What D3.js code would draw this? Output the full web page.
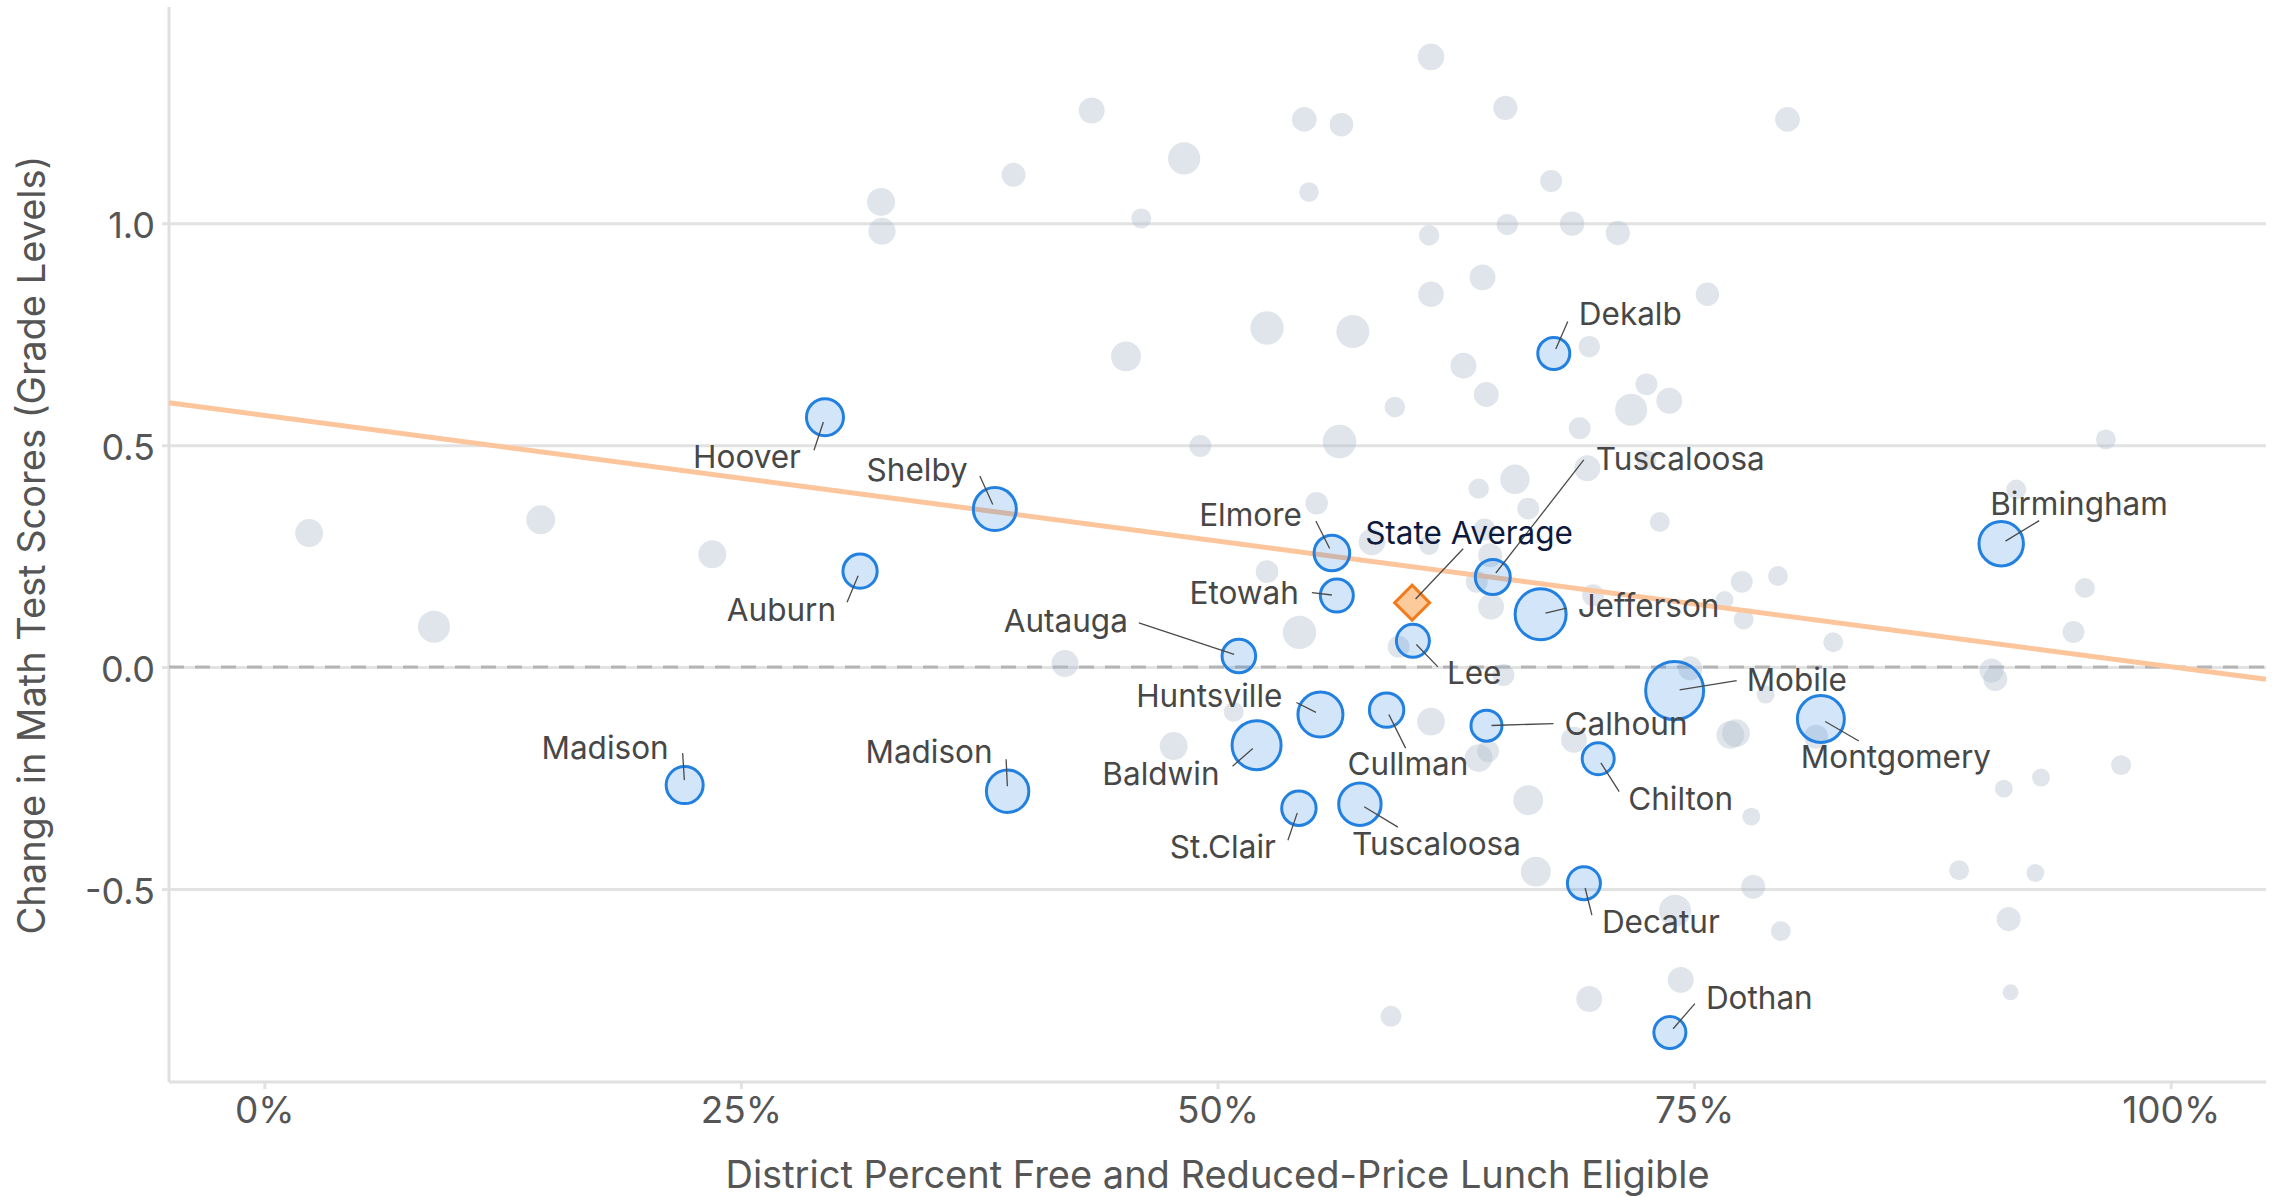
<!DOCTYPE html>
<html>
<head>
<meta charset="utf-8">
<script src="https://cdn.jsdelivr.net/npm/d3@7"></script>
<style>
  body { margin: 0; background: #fff; }
  svg { display: block; font-family: Inter, "Noto Sans", sans-serif; }
</style>
</head>
<body>
<div id="chart"></div>
<script>
// unlabeled districts: % free/reduced lunch, change in math scores, enrollment (thousands)
const otherPct = [0.612, 0.434, 0.5455, 0.565, 0.651, 0.799, 0.4825, 0.393, 0.675, 0.548,
  0.3235, 0.324, 0.460, 0.611, 0.652, 0.686, 0.710, 0.639, 0.612, 0.757,
  0.526, 0.571, 0.452, 0.629, 0.695, 0.725, 0.641, 0.717, 0.737, 0.593,
  0.690, 0.564, 0.491, 0.694, 0.725, 0.966, 0.552, 0.637, 0.656, 0.663,
  0.732, 0.919, 0.0235, 0.145, 0.235, 0.089, 0.420, 0.543, 0.526, 0.775,
  0.794, 0.955, 0.949, 0.823, 0.776, 0.766, 0.697, 0.581, 0.611, 0.640,
  0.643, 0.636, 0.6435, 0.595, 0.650, 0.748, 0.7875, 0.769, 0.772, 0.687,
  0.814, 0.906, 0.908, 0.5085, 0.477, 0.612, 0.637, 0.642, 0.663, 0.667,
  0.591, 0.780, 0.781, 0.740, 0.7955, 0.743, 0.695, 0.889, 0.929, 0.915,
  0.916, 0.974, 0.932, 0.9125];
const otherChange = [1.375, 1.254, 1.234, 1.222, 1.260, 1.234, 1.146, 1.109, 1.095, 1.070,
  1.048, 0.982, 1.011, 0.973, 0.997, 0.999, 0.978, 0.878, 0.840, 0.840,
  0.764, 0.756, 0.700, 0.679, 0.722, 0.637, 0.614, 0.580, 0.600, 0.586,
  0.538, 0.508, 0.498, 0.448, 0.466, 0.513, 0.369, 0.402, 0.423, 0.357,
  0.327, 0.400, 0.302, 0.332, 0.254, 0.091, 0.008, 0.078, 0.215, 0.192,
  0.205, 0.178, 0.079, 0.056, 0.107, 0.151, 0.162, 0.282, 0.275, 0.310,
  0.252, 0.192, 0.136, 0.046, -0.018, -0.003, -0.062, -0.153, -0.149, -0.164,
  -0.157, -0.008, -0.027, -0.101, -0.178, -0.123, -0.205, -0.190, -0.300, -0.461,
  -0.787, -0.337, -0.495, -0.549, -0.595, -0.705, -0.748, -0.458, -0.464, -0.568,
  -0.733, -0.221, -0.249, -0.274];
const otherEnroll = [11, 10.5, 9.5, 8.7, 9.2, 9.5, 16.2, 9, 7.5, 6,
  12.2, 11.5, 6.2, 6.5, 7.1, 9.4, 9.2, 10.5, 10.2, 8.5,
  17.4, 17, 14, 10.5, 7.1, 7.5, 9.7, 16, 10.5, 6.6,
  7.5, 17.6, 7.5, 10.5, 6.2, 6.2, 8, 6.5, 13.5, 7.5,
  6.2, 6.2, 12.2, 13, 12.2, 16, 11.4, 17.4, 8, 7.5,
  6.2, 6.2, 7.5, 6.2, 6.2, 5, 7.5, 11, 6.2, 7.5,
  9, 7.5, 10.5, 7.5, 7.5, 9, 5, 12, 12, 10.5,
  9, 9, 9, 6.2, 12.2, 12, 12, 7.5, 14, 14,
  6.9, 5, 9, 16, 6.2, 10.5, 10.5, 6.2, 5, 9,
  4, 6.2, 5, 5];

// labeled districts
const namedDistricts = ["Madison", "Hoover", "Auburn", "Shelby", "Madison", "Autauga", "Elmore",
  "Etowah", "Huntsville", "Baldwin", "Cullman", "St.Clair", "Tuscaloosa", "Lee", "Tuscaloosa",
  "Calhoun", "Jefferson", "Dekalb", "Chilton", "Decatur", "Mobile", "Dothan", "Montgomery", "Birmingham"];
const namedPct = [0.2205, 0.2941, 0.3125, 0.3832, 0.3899, 0.5112, 0.560,
  0.5626, 0.554, 0.5205, 0.5887, 0.5427, 0.5747, 0.6025, 0.6444,
  0.6411, 0.6695, 0.6764, 0.6997, 0.6922, 0.7398, 0.7373, 0.8165, 0.9111];
const namedChange = [-0.266, 0.563, 0.216, 0.356, -0.280, 0.025, 0.257,
  0.161, -0.107, -0.176, -0.097, -0.318, -0.309, 0.059, 0.203,
  -0.132, 0.119, 0.7065, -0.2065, -0.487, -0.053, -0.8236, -0.117, 0.278];
const namedEnroll = [21.4, 21.4, 18.3, 28.9, 28.1, 17.6, 19.8,
  17.0, 31.6, 37.5, 18.5, 18.5, 28.1, 17.0, 19.1,
  15.0, 40.6, 16.0, 16.0, 17.0, 52.5, 16.0, 34.5, 30.8];

const stateAvgPct = [0.6021];
const stateAvgChange = [0.145];

// fitted trend line end points
const trendX = [-0.05, 1.05];
const trendY = [0.5955, -0.0277];

const xTicks = [0, 0.25, 0.5, 0.75, 1];
const yTicks = [-0.5, 0, 0.5, 1];

// label placement: anchor, text dx, text dy, leader start dx, leader start dy
const labelLayout = [
  ["end", -16, -26, -2, -32],
  ["end", -24, 51, -11, 33],
  ["end", -24, 50, -13, 31],
  ["end", -27, -28, -15, -33],
  ["end", -15, -28, -1.5, -32],
  ["end", -111, -24, -100, -33],
  ["end", -30, -27, -16, -32],
  ["end", -38, 8, -25, -3],
  ["end", -38, -8, -24, -12],
  ["end", -37, 40, -24, 21],
  ["start", -39, 65, 19, 38],
  ["end", -23, 50, -11, 32],
  ["start", -8, 51, 38, 23],
  ["start", 34, 43, 25, 26],
  ["start", 103, -107, 91, -117],
  ["start", 78, 9, 67, -2],
  ["start", 37, 3, 26, -6],
  ["start", 25, -28, 14, -32],
  ["start", 30, 51, 21, 33],
  ["start", 18, 50, 8, 32],
  ["start", 72, 0, 62, -10],
  ["start", 36, -24, 25, -29],
  ["start", -20, 49, 38, 22],
  ["start", -11, -29, 38, -23]
];
const stateLayout = ["start", -47, -59, 51, -54];

const W = 2276, H = 1197;
const x = d3.scaleLinear().domain([-0.05, 1.05]).range([169, 2266]);
const y = d3.scaleLinear().domain([-0.935, 1.485]).range([1082, 8]);
const r = d3.scaleSqrt().domain([0, 60]).range([0, 31]);

const svg = d3.select("#chart").append("svg")
  .attr("width", W).attr("height", H);

// gridlines + y labels
const yAxis = svg.append("g")
  .attr("transform", `translate(${x.range()[0]},0)`)
  .call(d3.axisLeft(y).tickValues(yTicks).tickFormat(d => d.toFixed(1))
    .tickSize(-(x.range()[1] - x.range()[0])).tickPadding(14));
yAxis.select(".domain").remove();
yAxis.selectAll(".tick line").attr("x1", -7).attr("stroke", "#e2e2e2").attr("stroke-width", 3);
yAxis.selectAll(".tick text").attr("fill", "#555").attr("font-size", 36).attr("dy", "0.4em")
  .attr("font-family", "Inter, sans-serif");

// x axis
const xAxis = svg.append("g")
  .attr("transform", `translate(0,${y.range()[0]})`)
  .call(d3.axisBottom(x).tickValues(xTicks).tickFormat(d => Math.round(d * 100) + "%")
    .tickSize(7).tickPadding(8));
xAxis.select(".domain").remove();
xAxis.selectAll(".tick line").attr("stroke", "#e2e2e2").attr("stroke-width", 3);
xAxis.selectAll(".tick text").attr("fill", "#555").attr("font-size", 37)
  .attr("font-family", "Inter, sans-serif");

// axis lines
svg.append("line")
  .attr("x1", x.range()[0]).attr("x2", x.range()[0])
  .attr("y1", y.range()[1] - 1).attr("y2", y.range()[0])
  .attr("stroke", "#e0e0e0").attr("stroke-width", 3);
svg.append("line")
  .attr("x1", x.range()[0]).attr("x2", x.range()[1])
  .attr("y1", y.range()[0]).attr("y2", y.range()[0])
  .attr("stroke", "#e0e0e0").attr("stroke-width", 3);

// zero reference
svg.append("line")
  .attr("x1", x.range()[0]).attr("x2", x.range()[1])
  .attr("y1", y(0)).attr("y2", y(0))
  .attr("stroke", "#b5b5b5").attr("stroke-width", 3)
  .attr("stroke-dasharray", "15,11");

// other districts
const others = otherPct.map((p, i) => ({ p, c: otherChange[i], n: otherEnroll[i] }));
svg.append("g").selectAll("circle").data(others).join("circle")
  .attr("cx", d => x(d.p)).attr("cy", d => y(d.c)).attr("r", d => r(d.n))
  .attr("fill", "rgb(178,190,204)").attr("fill-opacity", 0.4);

// trend line
svg.append("path")
  .datum(trendX.map((v, i) => [v, trendY[i]]))
  .attr("d", d3.line().x(d => x(d[0])).y(d => y(d[1])))
  .attr("fill", "none").attr("stroke", "#fdc59c").attr("stroke-width", 5);

// named districts
const named = namedDistricts.map((name, i) => ({
  name, p: namedPct[i], c: namedChange[i], n: namedEnroll[i], lay: labelLayout[i]
}));
svg.append("g").selectAll("circle").data(named).join("circle")
  .attr("cx", d => x(d.p)).attr("cy", d => y(d.c)).attr("r", d => r(d.n))
  .attr("fill", "rgb(33,128,224)").attr("fill-opacity", 0.2)
  .attr("stroke", "#2280e0").attr("stroke-width", 3);

// state average
svg.append("path")
  .attr("d", d3.symbol(d3.symbolSquare, 612)())
  .attr("transform", `translate(${x(stateAvgPct[0])},${y(stateAvgChange[0])}) rotate(45)`)
  .attr("fill", "#fdca9c").attr("stroke", "#f27b1c").attr("stroke-width", 3);

// labels
function leader(g, cx, cy, lay) {
  const sx = cx + lay[3], sy = cy + lay[4];
  const len = Math.hypot(lay[3], lay[4]);
  g.append("line")
    .attr("x1", sx).attr("y1", sy)
    .attr("x2", cx + lay[3] / len * 5).attr("y2", cy + lay[4] / len * 5)
    .attr("stroke", "#4a4a4a").attr("stroke-width", 1.3);
}
const lab = svg.append("g");
named.forEach(d => {
  const cx = x(d.p), cy = y(d.c);
  leader(lab, cx, cy, d.lay);
  lab.append("text")
    .attr("x", cx + d.lay[1]).attr("y", cy + d.lay[2])
    .attr("text-anchor", d.lay[0])
    .attr("font-size", 31.5).attr("fill", "#474747")
    .text(d.name);
});
{
  const cx = x(stateAvgPct[0]), cy = y(stateAvgChange[0]);
  leader(lab, cx, cy, stateLayout);
  lab.append("text")
    .attr("x", cx + stateLayout[1]).attr("y", cy + stateLayout[2])
    .attr("text-anchor", stateLayout[0])
    .attr("font-size", 31.5).attr("fill", "#0e1a3d")
    .text("State Average");
}

// axis titles
svg.append("text")
  .attr("x", (x.range()[0] + x.range()[1]) / 2).attr("y", 1188)
  .attr("text-anchor", "middle").attr("font-size", 38).attr("fill", "#555")
  .text("District Percent Free and Reduced-Price Lunch Eligible");
svg.append("text")
  .attr("transform", `translate(45,${(y.range()[0] + y.range()[1]) / 2}) rotate(-90)`)
  .attr("text-anchor", "middle").attr("font-size", 38).attr("fill", "#555")
  .text("Change in Math Test Scores (Grade Levels)");
</script>
</body>
</html>
